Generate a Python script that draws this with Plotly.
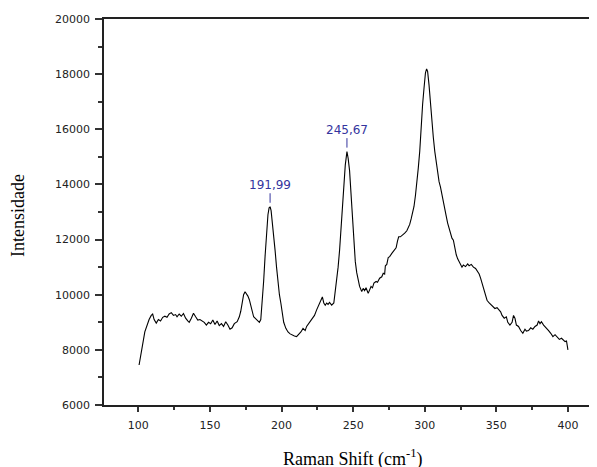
import plotly.graph_objects as go

raman_shift = [
    100.5, 101.5, 103, 104.5, 106, 107.5, 109, 110, 111, 112.5, 114, 115.5, 117, 118.5, 120,
    121.5, 123, 124.5, 126, 127, 128.5, 130, 131.5, 133, 134.5, 135.5, 137, 138.5, 140, 141.5,
    143, 144.5, 146, 147.5, 149, 150.5, 152, 153.5, 155, 156.5, 158, 159.5, 161, 162.5, 164,
    165.5, 167, 169, 170.5, 171.5, 172.5, 173.5, 174.5, 175.5, 176.5, 177.5, 178.5, 179.5,
    180.5, 181.5, 182.5, 183.5, 184.5, 185.5, 186.5, 187.5, 188.5, 189.5, 190.5, 191.3, 192,
    192.7, 193.5, 194.5, 195.5, 196.5, 197.5, 198.5, 199.5, 200.5, 201.5, 203, 204.5, 206,
    207.5, 209, 210.5, 212, 213.5, 215, 216.5, 217.5, 219, 220, 221.5, 223, 224.5, 226, 227.5,
    228.5, 229.5, 230.5, 231.5, 232.5, 233.5, 235, 236.5, 237.5, 238.5, 239.5, 240.5, 241.5,
    242.5, 243.5, 244.5, 245.67, 246.5, 247.5, 248.5, 249.5, 250.5, 251.5, 252.5, 253.5, 254.5,
    256, 257, 258, 259, 260.5, 261.5, 262.5, 263.5, 264.5, 266, 267, 268.5, 270, 271, 272,
    272.5, 273.5, 274.5, 275.5, 277, 278.5, 280, 281, 281.8, 283, 284.5, 286, 287.5, 288.5,
    289.5, 290.5, 291.5, 292.5, 293.5, 294.5, 295.5, 296.5, 297.5, 298.5, 299.5, 300.5, 301.3,
    302, 303, 304, 305, 306, 307, 308, 309, 310, 311, 312, 313, 314, 315, 316, 317, 318, 319,
    320, 321, 322, 323, 324, 325, 326, 327, 328.5, 330, 331, 332.5, 334, 335.5, 337, 338, 339,
    340, 341, 342, 343.5, 345, 346, 347.5, 349, 350.5, 352, 353, 354, 355.5, 357, 358, 359.5,
    361, 362, 363, 364, 365.5, 367, 368.5, 370, 371, 372.5, 374, 375.5, 377, 378.5, 379.5,
    380.5, 381.5, 383, 385, 386.5, 388, 389.5, 391, 392.5, 394, 395.5, 397, 398, 399, 400,
]

intensity = [
    7450, 7700, 8200, 8650, 8900, 9100, 9250, 9300, 9100, 8970, 9100, 9050, 9180, 9220, 9180,
    9300, 9350, 9250, 9280, 9200, 9300, 9220, 9320, 9150, 9050, 9000, 9150, 9330, 9200, 9080,
    9100, 9050, 9000, 8900, 9000, 8950, 9080, 8920, 9050, 8880, 8950, 8850, 9020, 8900, 8750,
    8800, 8950, 9020, 9200, 9400, 9700, 10000, 10110, 10050, 9950, 9820, 9600, 9350,
    9200, 9150, 9100, 9050, 9000, 9100, 9700, 10500, 11400, 12300, 12900, 13150, 13190,
    13050, 12700, 12100, 11600, 11000, 10400, 10000, 9700, 9300, 9000, 8780, 8650, 8580,
    8530, 8500, 8480, 8550, 8650, 8780, 8700, 8850, 8950, 9050, 9150, 9250, 9450, 9650, 9850,
    9920, 9700, 9620, 9700, 9650, 9720, 9620, 9700, 10100, 10600, 11000, 11600, 12400,
    13200, 14000, 14700, 15190, 14950, 14500, 13600, 12700, 11900, 11200, 10800, 10500, 10300,
    10120, 10230, 10150, 10250, 10050, 10200, 10300, 10250, 10420, 10480, 10450, 10600, 10650, 10780, 10750,
    11050, 11100, 11350, 11380, 11500, 11600, 11700, 11950, 12100, 12100, 12150, 12230, 12320, 12420,
    12550, 12750, 12950, 13200, 13600, 14050, 14600, 15200, 16200, 16900, 17500, 18050, 18190,
    18100, 17600, 16900, 16300, 15700, 15200, 14800, 14400, 14100, 13900, 13600, 13350, 13100, 12850, 12600, 12400, 12200, 12050,
    11980, 11700, 11450, 11300, 11200, 11050, 11000, 11080, 11020, 11120, 11050, 11100, 11000, 10950, 10850, 10750, 10600,
    10400, 10200, 10000, 9800, 9700, 9650, 9600, 9500, 9530, 9420, 9380, 9250, 9150, 9200, 9000, 8900,
    9000, 9250, 9150, 8900, 8850, 8700, 8600, 8750, 8680, 8700, 8800, 8750, 8850, 8900, 9050,
    8950, 9020, 8900, 8800, 8700, 8600, 8480, 8550, 8450, 8380, 8420, 8350, 8300, 8320, 8000,
]

peak_positions = [191.99, 245.67]
peak_heights = [13190, 15190]
peak_labels = ["191,99", "245,67"]

x_ticks = [100, 150, 200, 250, 300, 350, 400]
y_ticks = [6000, 8000, 10000, 12000, 14000, 16000, 18000, 20000]
y_tick_text = ["6000", "8000", "10000", "12000", "14000", "16000", "18000", "20000"]

fig = go.Figure()
fig.add_trace(go.Scatter(
    x=raman_shift, y=intensity, mode="lines",
    line=dict(color="black", width=1.1), showlegend=False, hoverinfo="skip",
))

label_color = "#34349e"
for px, py, txt in zip(peak_positions, peak_heights, peak_labels):
    fig.add_annotation(
        x=px, y=py, xref="x", yref="y", text=txt, showarrow=True,
        arrowhead=0, arrowwidth=1, arrowcolor=label_color,
        ax=0, ay=-22, standoff=4,
        font=dict(family="DejaVu Sans", size=12, color=label_color),
    )

fig.add_annotation(
    x=0.505, y=-0.137, xref="paper", yref="paper", xanchor="center", yanchor="middle",
    text="Raman Shift (cm<sup>-1</sup>)", showarrow=False,
    font=dict(family="Liberation Serif", size=18, color="black"),
)
fig.add_annotation(
    x=-0.174, y=0.49, xref="paper", yref="paper", xanchor="center", yanchor="middle",
    text="Intensidade", showarrow=False, textangle=-90,
    font=dict(family="Liberation Serif", size=18, color="black"),
)

# page has an 8px body margin, so the figure is placed at (8, 8)
fig.update_layout(
    width=589, height=459,
    margin=dict(l=96, r=0, t=11, b=62, autoexpand=False),
    paper_bgcolor="white", plot_bgcolor="white",
    font=dict(family="DejaVu Sans", size=11, color="#222"),
)
fig.update_xaxes(
    range=[76, 420.3], tickvals=x_ticks, ticks="outside", ticklen=5, tickwidth=1.5,
    tickcolor="#333", showline=True, linecolor="#222", linewidth=1.5, mirror=True,
    showgrid=False, zeroline=False, ticklabelstandoff=4, automargin=False,
    minor=dict(dtick=25, tick0=0, ticks="outside", ticklen=3, tickwidth=1.5, tickcolor="#333", showgrid=False),
)
fig.update_yaxes(
    range=[6000, 20000], tickvals=y_ticks, ticktext=y_tick_text, ticks="outside", ticklen=7, tickwidth=1.5,
    tickcolor="#333", showline=True, linecolor="#222", linewidth=1.5,
    showgrid=False, zeroline=False, ticklabelstandoff=3, automargin=False,
    minor=dict(dtick=1000, tick0=0, ticks="outside", ticklen=4, tickwidth=1.5, tickcolor="#333", showgrid=False),
)

fig.write_html("out.html")
